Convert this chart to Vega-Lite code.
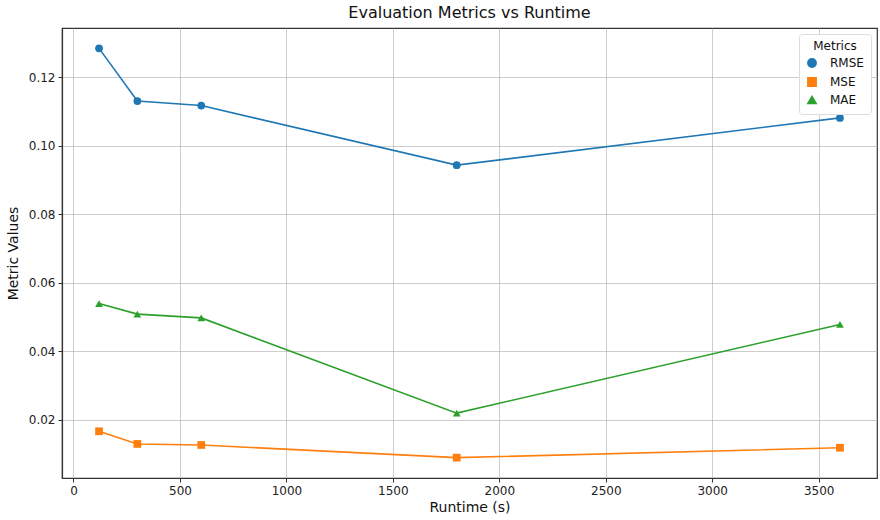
{
  "$schema": "https://vega.github.io/schema/vega-lite/v6.json",
  "width": 815,
  "height": 450,
  "autosize": {"type": "none"},
  "padding": {"left": 62, "top": 28, "right": 3, "bottom": 42},
  "background": "white",
  "title": {"text": "Evaluation Metrics vs Runtime", "font": "DejaVu Sans", "fontSize": 16, "fontWeight": "normal", "color": "#111", "offset": 7},
  "config": {
    "font": "DejaVu Sans",
    "view": {"stroke": "#333", "strokeWidth": 1.2},
    "axis": {"gridColor": "#b0b0b0", "gridWidth": 0.8, "gridOpacity": 0.8, "domainColor": "#333", "domainWidth": 1.2, "tickColor": "#333", "tickSize": 4, "labelFontSize": 12, "labelColor": "#222", "titleFontSize": 14, "titleFontWeight": "normal", "titleColor": "#111", "labelPadding": 3}
  },
  "data": {"values": [
    {"runtime": 120, "metric": "RMSE", "value": 0.1284},
    {"runtime": 300, "metric": "RMSE", "value": 0.1130},
    {"runtime": 600, "metric": "RMSE", "value": 0.1117},
    {"runtime": 1800, "metric": "RMSE", "value": 0.0943},
    {"runtime": 3600, "metric": "RMSE", "value": 0.1081},
    {"runtime": 120, "metric": "MSE", "value": 0.0166},
    {"runtime": 300, "metric": "MSE", "value": 0.0129},
    {"runtime": 600, "metric": "MSE", "value": 0.0126},
    {"runtime": 1800, "metric": "MSE", "value": 0.0089},
    {"runtime": 3600, "metric": "MSE", "value": 0.0118},
    {"runtime": 120, "metric": "MAE", "value": 0.0539},
    {"runtime": 300, "metric": "MAE", "value": 0.0508},
    {"runtime": 600, "metric": "MAE", "value": 0.0497},
    {"runtime": 1800, "metric": "MAE", "value": 0.0219},
    {"runtime": 3600, "metric": "MAE", "value": 0.0478}
  ]},
  "encoding": {
    "x": {"field": "runtime", "type": "quantitative", "title": "Runtime (s)", "scale": {"domain": [-54, 3774], "nice": false, "zero": false}, "axis": {"values": [0, 500, 1000, 1500, 2000, 2500, 3000, 3500], "format": "d", "titlePadding": 4}},
    "y": {"field": "value", "type": "quantitative", "title": "Metric Values", "scale": {"domain": [0.00296, 0.13434], "nice": false, "zero": false}, "axis": {"values": [0.02, 0.04, 0.06, 0.08, 0.10, 0.12], "format": ".2f", "titlePadding": 8}},
    "color": {"field": "metric", "type": "nominal", "scale": {"domain": ["RMSE", "MSE", "MAE"], "range": ["#1f77b4", "#ff7f0e", "#2ca02c"]},
      "legend": {"title": "Metrics", "orient": "top-right", "offset": 6, "titleFontSize": 12, "titleFontWeight": "normal", "titleAnchor": "middle", "titlePadding": 4, "labelFontSize": 12, "labelOffset": 12, "strokeColor": "#dddddd", "fillColor": "white", "padding": 7, "cornerRadius": 3, "symbolSize": 70, "rowPadding": 3, "titleColor": "#111", "labelColor": "#111"}}
  },
  "layer": [
    {"mark": {"type": "line", "strokeWidth": 1.6}},
    {"mark": {"type": "point", "filled": true, "opacity": 1, "size": 60},
     "encoding": {"shape": {"field": "metric", "type": "nominal", "scale": {"domain": ["RMSE", "MSE", "MAE"], "range": ["circle", "square", "triangle-up"]}, "legend": {"title": "Metrics"}}}}
  ]
}
